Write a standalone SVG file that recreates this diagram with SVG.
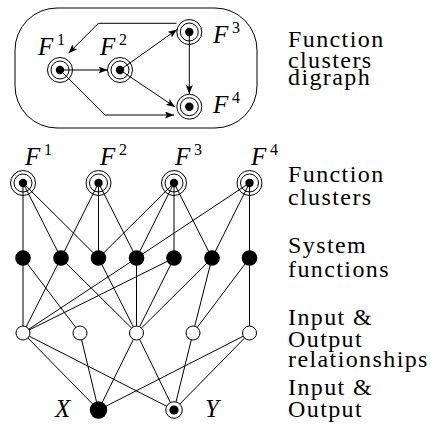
<svg xmlns="http://www.w3.org/2000/svg" width="433" height="435" viewBox="0 0 433 435">
  <style>
    .edge { stroke: #000; stroke-width: 1; fill: none; }
    .ring { stroke: #000; stroke-width: 1; fill: none; }
    .open { stroke: #000; stroke-width: 1; fill: #fff; }
    .dot { fill: #000; }
    .lbl { font-family: 'Liberation Serif', 'DejaVu Serif', serif; font-style: italic; font-size: 25px; fill: #000; }
    .sup { font-size: 16px; font-style: normal; }
    .cap { font-family: 'Liberation Serif', 'DejaVu Serif', serif; font-size: 24px; letter-spacing: 1.4px; fill: #000; }
  </style>
  <defs>
    <marker id="arr" viewBox="0 0 9 7" refX="9" refY="3.5" markerWidth="9" markerHeight="7" markerUnits="userSpaceOnUse" orient="auto">
      <path d="M0,0 L9,3.5 L0,7 L2,3.5 z" fill="#000"/>
    </marker>
    <!-- cluster node: two rings around a solid centre -->
    <g id="cluster">
      <circle class="ring" r="12.5"/>
      <circle class="ring" r="9"/>
      <circle class="dot" r="4.2"/>
    </g>
  </defs>

  <!-- digraph enclosure -->
  <rect id="digraph-frame" x="15" y="8" width="242" height="120" rx="42" ry="42" class="edge"/>

  <!-- digraph arcs -->
  <g id="digraph-edges" class="edge">
    <path d="M60,70 L107.5,70" marker-end="url(#arr)"/>
    <path d="M120,70 L177,29.5" marker-end="url(#arr)"/>
    <path d="M120,70 L175,107" marker-end="url(#arr)"/>
    <path d="M189.3,32 L189.3,94" marker-end="url(#arr)"/>
    <path d="M60,70 L105,115 L174,115" marker-end="url(#arr)"/>
    <path d="M176.5,23.3 L98.3,23.3 L68.5,53.3" marker-end="url(#arr)"/>
  </g>

  <!-- digraph nodes -->
  <g id="dF1"><use href="#cluster" x="60" y="70"/><text class="lbl" x="38" y="55">F<tspan class="sup" x="57" y="45">1</tspan></text></g>
  <g id="dF2"><use href="#cluster" x="120" y="70"/><text class="lbl" x="100" y="55">F<tspan class="sup" x="119" y="45">2</tspan></text></g>
  <g id="dF3"><use href="#cluster" x="189.3" y="32"/><text class="lbl" x="213" y="43">F<tspan class="sup" x="232" y="33">3</tspan></text></g>
  <g id="dF4"><use href="#cluster" x="189.3" y="106.7"/><text class="lbl" x="213" y="113">F<tspan class="sup" x="232" y="103">4</tspan></text></g>

  <!-- layered graph connectors -->
  <g id="connectors" class="edge">
    <!-- clusters to system functions -->
    <line x1="23" y1="183" x2="23" y2="258"/>
    <line x1="23" y1="183" x2="61" y2="258"/>
    <line x1="23" y1="183" x2="98.5" y2="258"/>
    <line x1="98.5" y1="183" x2="61" y2="258"/>
    <line x1="98.5" y1="183" x2="98.5" y2="258"/>
    <line x1="98.5" y1="183" x2="136.5" y2="258"/>
    <line x1="174" y1="183" x2="98.5" y2="258"/>
    <line x1="174" y1="183" x2="136.5" y2="258"/>
    <line x1="174" y1="183" x2="174" y2="258"/>
    <line x1="174" y1="183" x2="212" y2="258"/>
    <line x1="249.5" y1="183" x2="136.5" y2="258"/>
    <line x1="249.5" y1="183" x2="212" y2="258"/>
    <line x1="249.5" y1="183" x2="249.5" y2="258"/>
    <!-- system functions to relationships -->
    <line x1="23" y1="258" x2="23" y2="333"/>
    <line x1="23" y1="258" x2="80" y2="333"/>
    <line x1="61" y1="258" x2="23" y2="333"/>
    <line x1="61" y1="258" x2="136.5" y2="333"/>
    <line x1="98.5" y1="258" x2="136.5" y2="333"/>
    <line x1="136.5" y1="258" x2="23" y2="333"/>
    <line x1="136.5" y1="258" x2="136.5" y2="333"/>
    <line x1="174" y1="258" x2="23" y2="333"/>
    <line x1="174" y1="258" x2="136.5" y2="333"/>
    <line x1="212" y1="258" x2="136.5" y2="333"/>
    <line x1="212" y1="258" x2="193" y2="333"/>
    <line x1="249.5" y1="258" x2="193" y2="333"/>
    <line x1="249.5" y1="258" x2="249.5" y2="333"/>
    <!-- relationships to input and output -->
    <line x1="23" y1="333" x2="98.5" y2="410"/>
    <line x1="23" y1="333" x2="174" y2="410"/>
    <line x1="80" y1="333" x2="98.5" y2="410"/>
    <line x1="136.5" y1="333" x2="98.5" y2="410"/>
    <line x1="136.5" y1="333" x2="174" y2="410"/>
    <line x1="193" y1="333" x2="174" y2="410"/>
    <line x1="249.5" y1="333" x2="98.5" y2="410"/>
    <line x1="249.5" y1="333" x2="174" y2="410"/>
  </g>

  <!-- function clusters -->
  <g id="F1"><use href="#cluster" x="23" y="183"/><text class="lbl" x="25" y="165">F<tspan class="sup" x="44" y="155">1</tspan></text></g>
  <g id="F2"><use href="#cluster" x="98.5" y="183"/><text class="lbl" x="100" y="165">F<tspan class="sup" x="119" y="155">2</tspan></text></g>
  <g id="F3"><use href="#cluster" x="174" y="183"/><text class="lbl" x="175" y="165">F<tspan class="sup" x="194" y="155">3</tspan></text></g>
  <g id="F4"><use href="#cluster" x="249.5" y="183"/><text class="lbl" x="251" y="165">F<tspan class="sup" x="270" y="155">4</tspan></text></g>

  <!-- system functions -->
  <g id="s1"><circle class="dot" cx="23" cy="258" r="7.8"/></g>
  <g id="s2"><circle class="dot" cx="61" cy="258" r="7.8"/></g>
  <g id="s3"><circle class="dot" cx="98.5" cy="258" r="7.8"/></g>
  <g id="s4"><circle class="dot" cx="136.5" cy="258" r="7.8"/></g>
  <g id="s5"><circle class="dot" cx="174" cy="258" r="7.8"/></g>
  <g id="s6"><circle class="dot" cx="212" cy="258" r="7.8"/></g>
  <g id="s7"><circle class="dot" cx="249.5" cy="258" r="7.8"/></g>

  <!-- input/output relationships -->
  <g id="r1"><circle class="open" cx="23" cy="333" r="7"/></g>
  <g id="r2"><circle class="open" cx="80" cy="333" r="7"/></g>
  <g id="r3"><circle class="open" cx="136.5" cy="333" r="7"/></g>
  <g id="r4"><circle class="open" cx="193" cy="333" r="7"/></g>
  <g id="r5"><circle class="open" cx="249.5" cy="333" r="7"/></g>

  <!-- input and output -->
  <g id="X"><circle class="dot" cx="98.5" cy="410" r="8.7"/><text class="lbl" x="55" y="417">X</text></g>
  <g id="Y"><circle class="open" cx="174" cy="410" r="8.3"/><circle class="dot" cx="174" cy="410" r="4.6"/><text class="lbl" x="205" y="417">Y</text></g>

  <!-- layer captions -->
  <g id="captions">
    <text class="cap" x="288" y="46.7">Function</text>
    <text class="cap" x="288" y="67.5">clusters</text>
    <text class="cap" x="288" y="84.5">digraph</text>
    <text class="cap" x="288" y="181.7">Function</text>
    <text class="cap" x="288" y="205">clusters</text>
    <text class="cap" x="288" y="253.3">System</text>
    <text class="cap" x="288" y="276.7">functions</text>
    <text class="cap" x="288" y="325">Input &amp;</text>
    <text class="cap" x="288" y="346.7">Output</text>
    <text class="cap" x="288" y="366.7">relationships</text>
    <text class="cap" x="288" y="395">Input &amp;</text>
    <text class="cap" x="288" y="416.7">Output</text>
  </g>
</svg>
